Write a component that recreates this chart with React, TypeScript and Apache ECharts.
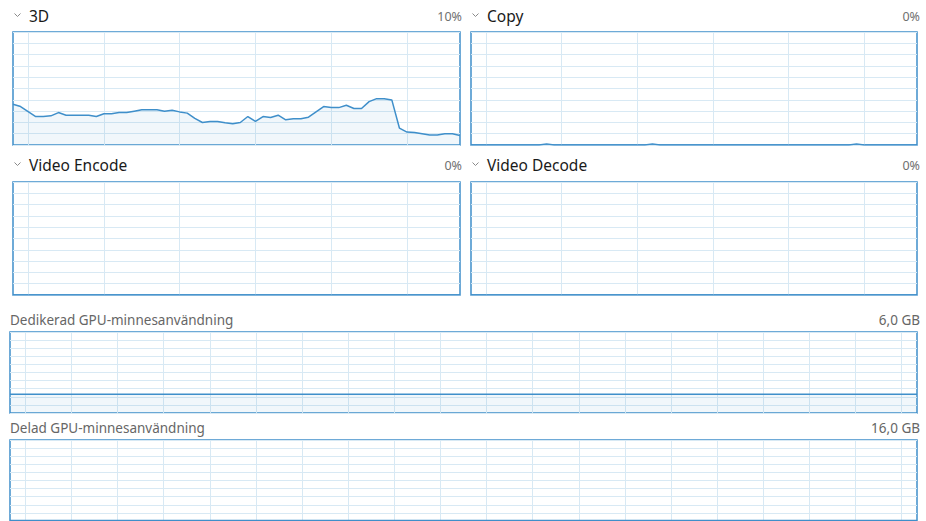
import React, { useEffect, useRef } from "react";
import * as echarts from "echarts";

// 60 one-second samples, oldest first
const seconds: string[] = Array.from({ length: 60 }, (_, i) => String(59 - i));

const engine3D: number[] = [
  36, 34, 29.6, 25.2, 25.2, 25.8, 28.7, 26.4, 26.4, 26.4,
  26.4, 25.2, 27.6, 27.6, 28.7, 28.7, 29.9, 31.1, 31.1, 31.1,
  29.9, 30.8, 29.3, 28.2, 23.5, 19.9, 20.8, 20.8, 19.6, 18.8,
  19.9, 25.2, 20.8, 25.2, 24.3, 26.4, 22.3, 23.2, 23.2, 24.6,
  29.3, 34, 33.1, 33.1, 35.2, 32.3, 32.3, 38.4, 41, 41,
  39.9, 15, 11.4, 11.1, 10, 8.8, 8.8, 10, 10, 8.5,
];
const engineCopy: number[] = [
  0, 0, 0, 0, 0, 0, 0, 0, 0, 0,
  1, 0, 0, 0, 0, 0, 0, 0, 0, 0,
  0, 0, 0, 0, 1, 0, 0, 0, 0, 0,
  0, 0, 0, 0, 0, 0, 0, 0, 0, 0,
  0, 0, 0, 0, 0, 0, 0, 0, 0, 0,
  0, 1, 0, 0, 0, 0, 0, 0, 0, 0,
];
const engineEncode: number[] = [
  0, 0, 0, 0, 0, 0, 0, 0, 0, 0, 0, 0, 0, 0, 0, 0, 0, 0, 0, 0,
  0, 0, 0, 0, 0, 0, 0, 0, 0, 0, 0, 0, 0, 0, 0, 0, 0, 0, 0, 0,
  0, 0, 0, 0, 0, 0, 0, 0, 0, 0, 0, 0, 0, 0, 0, 0, 0, 0, 0, 0,
];
const engineDecode: number[] = [
  0, 0, 0, 0, 0, 0, 0, 0, 0, 0, 0, 0, 0, 0, 0, 0, 0, 0, 0, 0,
  0, 0, 0, 0, 0, 0, 0, 0, 0, 0, 0, 0, 0, 0, 0, 0, 0, 0, 0, 0,
  0, 0, 0, 0, 0, 0, 0, 0, 0, 0, 0, 0, 0, 0, 0, 0, 0, 0, 0, 0,
];
const dedicatedGB: number[] = [
  1.38, 1.38, 1.38, 1.38, 1.38, 1.38, 1.38, 1.38, 1.38, 1.38,
  1.38, 1.38, 1.38, 1.38, 1.38, 1.38, 1.38, 1.38, 1.38, 1.38,
  1.38, 1.38, 1.38, 1.38, 1.38, 1.38, 1.38, 1.38, 1.38, 1.38,
  1.38, 1.38, 1.38, 1.38, 1.38, 1.38, 1.38, 1.38, 1.38, 1.38,
  1.38, 1.38, 1.38, 1.38, 1.38, 1.38, 1.38, 1.38, 1.38, 1.38,
  1.38, 1.38, 1.38, 1.38, 1.38, 1.38, 1.38, 1.38, 1.38, 1.38,
];
const sharedGB: number[] = [
  0.1, 0.1, 0.1, 0.1, 0.1, 0.1, 0.1, 0.1, 0.1, 0.1,
  0.1, 0.1, 0.1, 0.1, 0.1, 0.1, 0.1, 0.1, 0.1, 0.1,
  0.1, 0.1, 0.1, 0.1, 0.1, 0.1, 0.1, 0.1, 0.1, 0.1,
  0.1, 0.1, 0.1, 0.1, 0.1, 0.1, 0.1, 0.1, 0.1, 0.1,
  0.1, 0.1, 0.1, 0.1, 0.1, 0.1, 0.1, 0.1, 0.1, 0.1,
  0.1, 0.1, 0.1, 0.1, 0.1, 0.1, 0.1, 0.1, 0.1, 0.1,
];

const engineTitles: string[] = ["3D", "Copy", "Video Encode", "Video Decode"];
const engineReadouts: string[] = ["10%", "0%", "0%", "0%"];
const memoryTitles: string[] = ["Dedikerad GPU-minnesanvändning", "Delad GPU-minnesanvändning"];
const memoryReadouts: string[] = ["6,0 GB", "16,0 GB"];
const memoryMax: number[] = [6, 16];

const BLUE = "#3f8fca";
const GRID = "#d8e9f4";
const FONT = "'Noto Sans', 'Open Sans', sans-serif";

export default function App() {
  const ref = useRef<HTMLDivElement>(null);

  useEffect(() => {
    if (!ref.current) return;
    const chart = echarts.init(ref.current, undefined, { renderer: "svg" });

    const grids = [
      { left: 13, top: 32, width: 447, height: 113 },
      { left: 471, top: 32, width: 446, height: 113 },
      { left: 13, top: 182, width: 447, height: 113 },
      { left: 471, top: 182, width: 446, height: 113 },
      { left: 10, top: 332, width: 907, height: 81 },
      { left: 10, top: 440, width: 907, height: 83 },
    ].map((g) => ({
      ...g,
      show: true,
      borderColor: BLUE,
      borderWidth: 1.5,
      backgroundColor: "transparent",
      containLabel: false,
    }));

    const engineSplit = (i: number) => i % 10 === 2;
    const memorySplit = (i: number) => i % 3 === 1;

    const xAxes = grids.map((_, gi) => ({
      type: "category" as const,
      gridIndex: gi,
      data: seconds,
      boundaryGap: false,
      axisLine: { show: false },
      axisTick: { show: false },
      axisLabel: { show: false },
      splitLine: {
        show: true,
        interval: gi < 4 ? engineSplit : memorySplit,
        lineStyle: { color: GRID, width: 1 },
      },
    }));

    const yMax = [100, 100, 100, 100, memoryMax[0], memoryMax[1]];
    const yAxes = grids.map((_, gi) => ({
      type: "value" as const,
      gridIndex: gi,
      min: 0,
      max: yMax[gi],
      interval: yMax[gi] / 10,
      axisLine: { show: false },
      axisTick: { show: false },
      axisLabel: { show: false },
      splitLine: { show: true, lineStyle: { color: GRID, width: 1 } },
    }));

    const datasets = [engine3D, engineCopy, engineEncode, engineDecode, dedicatedGB, sharedGB];
    const series = datasets.map((d, gi) => ({
      type: "line" as const,
      xAxisIndex: gi,
      yAxisIndex: gi,
      data: d,
      symbol: "none",
      silent: true,
      lineStyle: { color: BLUE, width: 1.5 },
      areaStyle: { color: BLUE, opacity: 0.07 },
      z: 3,
    }));

    const graphics: any[] = [];
    const engPos = [
      { x: 13, right: 462, y: 16 },
      { x: 471, right: 920, y: 16 },
      { x: 13, right: 462, y: 165 },
      { x: 471, right: 920, y: 165 },
    ];
    engPos.forEach((p, i) => {
      graphics.push({
        type: "polyline",
        shape: { points: [[p.x + 1.5, p.y - 2.5], [p.x + 4.5, p.y + 0.5], [p.x + 7.5, p.y - 2.5]] },
        style: { stroke: "#8a8a8a", lineWidth: 1, fill: null },
        silent: true,
      });
      graphics.push({
        type: "text",
        x: p.x + 16,
        y: p.y,
        style: {
          text: engineTitles[i],
          fill: "#1a1a1a",
          font: `15.5px ${FONT}`,
          textVerticalAlign: "middle",
          verticalAlign: "middle",
        },
        silent: true,
      });
      graphics.push({
        type: "text",
        x: p.right,
        y: p.y,
        style: {
          text: engineReadouts[i],
          fill: "#707070",
          font: `12.5px ${FONT}`,
          align: "right",
          textAlign: "right",
          verticalAlign: "middle",
          textVerticalAlign: "middle",
        },
        silent: true,
      });
    });
    const memY = [320, 428];
    memY.forEach((y, i) => {
      graphics.push({
        type: "text",
        x: 10,
        y,
        style: {
          text: memoryTitles[i],
          fill: "#666666",
          font: `13.5px ${FONT}`,
          verticalAlign: "middle",
          textVerticalAlign: "middle",
        },
        silent: true,
      });
      graphics.push({
        type: "text",
        x: 920,
        y,
        style: {
          text: memoryReadouts[i],
          fill: "#666666",
          font: `13.5px ${FONT}`,
          align: "right",
          textAlign: "right",
          verticalAlign: "middle",
          textVerticalAlign: "middle",
        },
        silent: true,
      });
    });

    chart.setOption({
      animation: false,
      backgroundColor: "#ffffff",
      grid: grids,
      xAxis: xAxes,
      yAxis: yAxes,
      series,
      graphic: graphics,
    });

    return () => chart.dispose();
  }, []);

  return (
    <div
      ref={ref}
      style={{ position: "absolute", left: 0, top: 0, width: 926, height: 521 }}
    />
  );
}
